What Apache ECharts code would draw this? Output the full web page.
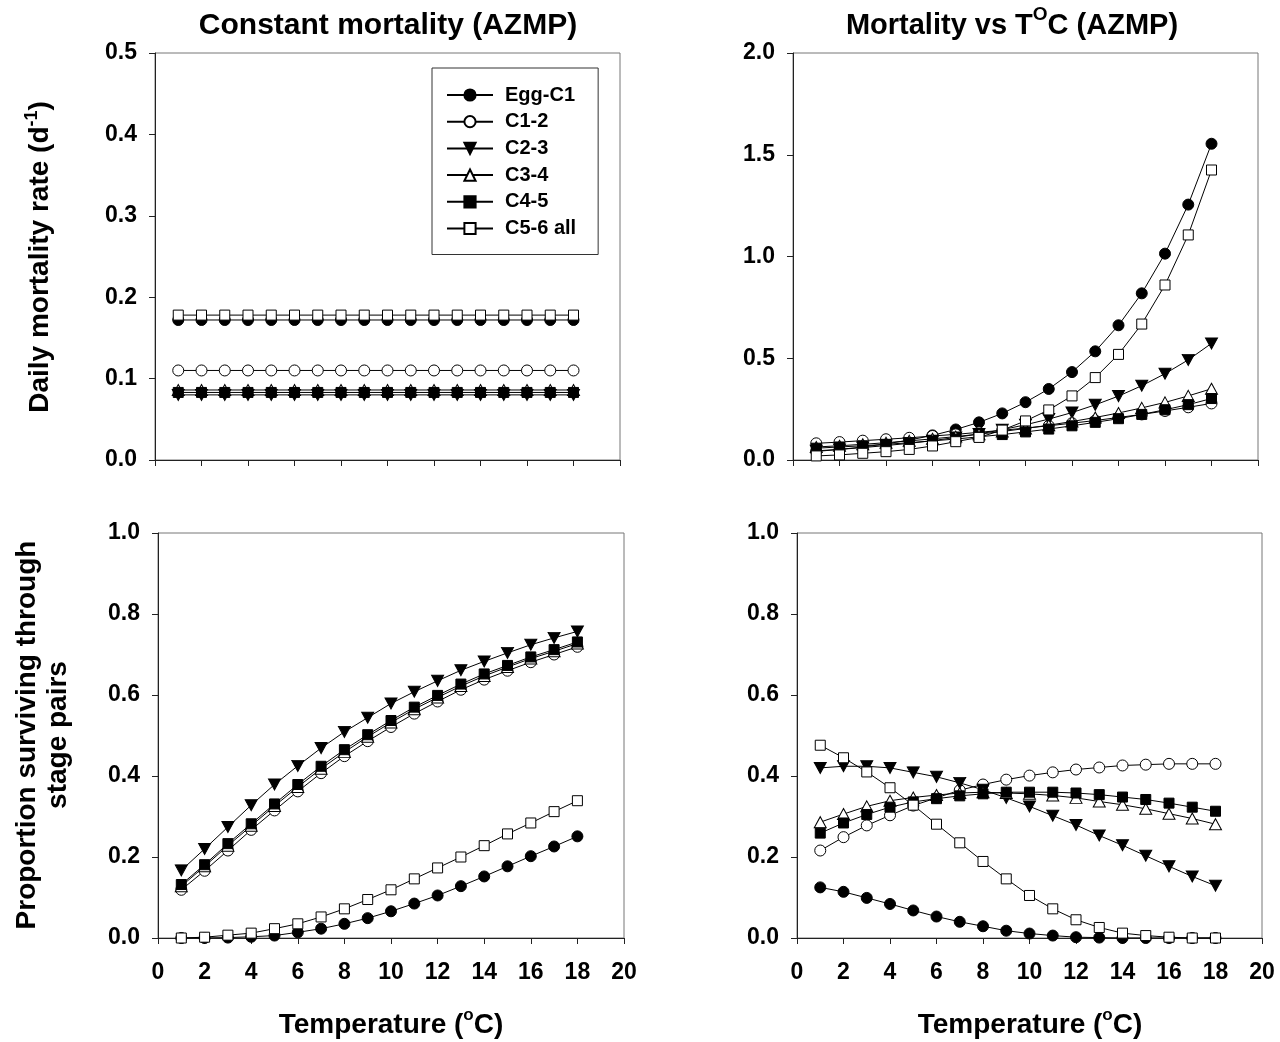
<!DOCTYPE html>
<html>
<head>
<meta charset="utf-8">
<script src="https://cdn.jsdelivr.net/npm/echarts@6/dist/echarts.min.js"></script>
<style>
html,body{margin:0;padding:0;background:#fff;}
#chart{width:1280px;height:1042px;}
</style>
</head>
<body>
<div id="chart"></div>
<script>
// ---------------- DATA ----------------
const temperature = [1,2,3,4,5,6,7,8,9,10,11,12,13,14,15,16,17,18];
const stageNames = ['Egg-C1','C1-2','C2-3','C3-4','C4-5','C5-6 all'];
const xTicks = [0,2,4,6,8,10,12,14,16,18,20];

// Top-left: constant daily mortality rate (d-1)
const constMort_EggC1 = [0.172,0.172,0.172,0.172,0.172,0.172,0.172,0.172,0.172,0.172,0.172,0.172,0.172,0.172,0.172,0.172,0.172,0.172];
const constMort_C12   = [0.110,0.110,0.110,0.110,0.110,0.110,0.110,0.110,0.110,0.110,0.110,0.110,0.110,0.110,0.110,0.110,0.110,0.110];
const constMort_C23   = [0.080,0.080,0.080,0.080,0.080,0.080,0.080,0.080,0.080,0.080,0.080,0.080,0.080,0.080,0.080,0.080,0.080,0.080];
const constMort_C34   = [0.086,0.086,0.086,0.086,0.086,0.086,0.086,0.086,0.086,0.086,0.086,0.086,0.086,0.086,0.086,0.086,0.086,0.086];
const constMort_C45   = [0.083,0.083,0.083,0.083,0.083,0.083,0.083,0.083,0.083,0.083,0.083,0.083,0.083,0.083,0.083,0.083,0.083,0.083];
const constMort_C56   = [0.178,0.178,0.178,0.178,0.178,0.178,0.178,0.178,0.178,0.178,0.178,0.178,0.178,0.178,0.178,0.178,0.178,0.178];

// Top-right: temperature-dependent mortality rate (d-1)
const tempMort_EggC1 = [0.042,0.052,0.064,0.079,0.098,0.121,0.150,0.185,0.229,0.284,0.349,0.432,0.534,0.662,0.819,1.014,1.255,1.554];
const tempMort_C12   = [0.082,0.088,0.095,0.102,0.109,0.118,0.126,0.136,0.146,0.157,0.168,0.181,0.194,0.209,0.224,0.241,0.259,0.278];
const tempMort_C23   = [0.045,0.052,0.061,0.071,0.082,0.095,0.111,0.128,0.149,0.173,0.201,0.233,0.271,0.314,0.365,0.424,0.492,0.573];
const tempMort_C34   = [0.064,0.070,0.077,0.085,0.094,0.104,0.115,0.127,0.140,0.155,0.171,0.189,0.209,0.231,0.256,0.283,0.315,0.350];
const tempMort_C45   = [0.058,0.064,0.070,0.077,0.085,0.094,0.103,0.114,0.125,0.138,0.152,0.168,0.185,0.203,0.224,0.247,0.272,0.302];
const tempMort_C56   = [0.020,0.025,0.033,0.041,0.052,0.069,0.090,0.111,0.147,0.192,0.246,0.315,0.405,0.519,0.668,0.860,1.106,1.425];

// Bottom-left: proportion surviving, constant mortality
const constSurv_EggC1 = [0.000,0.000,0.001,0.003,0.006,0.014,0.023,0.035,0.049,0.066,0.085,0.105,0.128,0.152,0.177,0.202,0.226,0.251];
const constSurv_C12   = [0.119,0.166,0.216,0.267,0.315,0.362,0.407,0.449,0.486,0.521,0.554,0.584,0.613,0.638,0.660,0.681,0.700,0.719];
const constSurv_C23   = [0.167,0.220,0.274,0.328,0.379,0.425,0.469,0.509,0.544,0.579,0.608,0.635,0.661,0.683,0.704,0.724,0.741,0.757];
const constSurv_C34   = [0.128,0.177,0.228,0.277,0.326,0.373,0.418,0.459,0.497,0.532,0.565,0.594,0.622,0.647,0.669,0.690,0.708,0.727];
const constSurv_C45   = [0.132,0.181,0.233,0.282,0.331,0.379,0.424,0.465,0.502,0.537,0.570,0.599,0.627,0.652,0.673,0.694,0.712,0.731];
const constSurv_C56   = [0.000,0.002,0.007,0.012,0.023,0.035,0.052,0.072,0.095,0.119,0.146,0.173,0.200,0.228,0.257,0.284,0.312,0.339];

// Bottom-right: proportion surviving, temperature-dependent mortality
const tempSurv_EggC1 = [0.125,0.114,0.099,0.084,0.068,0.053,0.040,0.029,0.018,0.011,0.006,0.002,0.001,0.000,0.000,0.000,0.000,0.000];
const tempSurv_C12   = [0.216,0.249,0.278,0.303,0.327,0.346,0.365,0.379,0.391,0.401,0.409,0.416,0.421,0.426,0.428,0.430,0.430,0.430];
const tempSurv_C23   = [0.420,0.424,0.424,0.420,0.409,0.398,0.383,0.366,0.346,0.325,0.302,0.279,0.253,0.229,0.203,0.177,0.152,0.129];
const tempSurv_C34   = [0.286,0.306,0.325,0.339,0.347,0.353,0.358,0.360,0.358,0.356,0.352,0.346,0.337,0.329,0.319,0.307,0.295,0.281];
const tempSurv_C45   = [0.259,0.284,0.305,0.323,0.336,0.344,0.351,0.356,0.360,0.360,0.360,0.358,0.354,0.348,0.342,0.333,0.323,0.313];
const tempSurv_C56   = [0.476,0.445,0.410,0.371,0.328,0.281,0.235,0.189,0.146,0.105,0.072,0.045,0.026,0.012,0.006,0.002,0.000,0.000];

// ---------------- STYLE / BUILD ----------------
const FONT = 'Liberation Sans, Arial, Helvetica, sans-serif';
const DOWN_TRI = 'path://M0,0 L10,0 L5,9 Z';
const markerStyles = {
  'Egg-C1':   {symbol:'circle',   size:11, fill:'#000'},
  'C1-2':     {symbol:'circle',   size:11, fill:'#fff'},
  'C2-3':     {symbol:DOWN_TRI,   size:[12,11], fill:'#000'},
  'C3-4':     {symbol:'triangle', size:[12,11], fill:'#fff'},
  'C4-5':     {symbol:'rect',     size:10, fill:'#000'},
  'C5-6 all': {symbol:'rect',     size:10, fill:'#fff'}
};

const panels = [
  {grid:{left:155, top:53, width:465, height:407}, ymax:0.5, yint:0.1, xlabels:false,
   data:[constMort_EggC1,constMort_C12,constMort_C23,constMort_C34,constMort_C45,constMort_C56]},
  {grid:{left:793, top:53, width:465, height:407}, ymax:2.0, yint:0.5, xlabels:false,
   data:[tempMort_EggC1,tempMort_C12,tempMort_C23,tempMort_C34,tempMort_C45,tempMort_C56]},
  {grid:{left:158, top:533, width:466, height:405}, ymax:1.0, yint:0.2, xlabels:true,
   data:[constSurv_EggC1,constSurv_C12,constSurv_C23,constSurv_C34,constSurv_C45,constSurv_C56]},
  {grid:{left:797, top:533, width:465, height:405}, ymax:1.0, yint:0.2, xlabels:true,
   data:[tempSurv_EggC1,tempSurv_C12,tempSurv_C23,tempSurv_C34,tempSurv_C45,tempSurv_C56]}
];

const grids = [], xAxes = [], yAxes = [], series = [];
panels.forEach((p, gi) => {
  grids.push(Object.assign({show:true, borderColor:'#777', borderWidth:1, backgroundColor:'#fff'}, p.grid));
  xAxes.push({
    type:'value', gridIndex:gi, min:xTicks[0], max:xTicks[xTicks.length-1], interval:2,
    axisLine:{show:true, onZero:false, lineStyle:{color:'#222', width:1}},
    axisTick:{show:true, inside:false, length:6, lineStyle:{color:'#222'}},
    axisLabel:{show:p.xlabels, margin:23, color:'#000', fontFamily:FONT, fontWeight:'bold', fontSize:23},
    splitLine:{show:false}
  });
  yAxes.push({
    type:'value', gridIndex:gi, min:0, max:p.ymax, interval:p.yint,
    axisLine:{show:true, onZero:false, lineStyle:{color:'#222', width:1}},
    axisTick:{show:true, inside:false, length:6, lineStyle:{color:'#222'}},
    axisLabel:{margin:18, color:'#000', fontFamily:FONT, fontWeight:'bold', fontSize:23,
               formatter:v => v.toFixed(1)},
    splitLine:{show:false}
  });
  stageNames.forEach((name, si) => {
    const m = markerStyles[name];
    series.push({
      type:'line', name:name, xAxisIndex:gi, yAxisIndex:gi,
      data: temperature.map((t, i) => [t, p.data[si][i]]),
      symbol:m.symbol, symbolSize:m.size, showAllSymbol:true,
      lineStyle:{color:'#000', width:1},
      itemStyle:{color:m.fill, borderColor:'#000', borderWidth:1},
      emphasis:{disabled:true}, animation:false, z: 2 + si
    });
  });
});

const option = {
  backgroundColor:'#fff',
  animation:false,
  grid:grids, xAxis:xAxes, yAxis:yAxes, series:series,
  legend:{
    data:stageNames, orient:'vertical', left:432, top:68,
    padding:[17,22,16,14], itemGap:6.7, itemWidth:46, itemHeight:14,
    borderColor:'#333', borderWidth:1, backgroundColor:'#fff',
    selectedMode:false,
    textStyle:{fontFamily:FONT, fontWeight:'bold', fontSize:20, color:'#000', padding:[0,0,0,7]}
  },
  graphic:[
    {type:'text', x:388, y:26, style:{text:'Constant mortality (AZMP)', font:'bold 30px ' + FONT, fill:'#000', align:'center', verticalAlign:'middle'}},
    {type:'text', x:1012, y:26, style:{
      text:'Mortality vs T{s|O}C (AZMP)', font:'bold 29px ' + FONT, fill:'#000', align:'center', verticalAlign:'middle',
      rich:{s:{fontFamily:FONT, fontWeight:'bold', fontSize:19, fill:'#000', padding:[0,0,22,0]}}}},
    {type:'text', x:40, y:257, rotation:Math.PI/2, style:{
      text:'Daily mortality rate (d{s|-1})', font:'bold 28px ' + FONT, fill:'#000', align:'center', verticalAlign:'middle',
      rich:{s:{fontFamily:FONT, fontWeight:'bold', fontSize:18, fill:'#000', padding:[0,0,16,0]}}}},
    {type:'text', x:43, y:735, rotation:Math.PI/2, style:{
      text:'Proportion surviving through\nstage pairs', font:'bold 28px ' + FONT, fill:'#000', align:'center', verticalAlign:'middle', lineHeight:31}},
    {type:'text', x:391, y:1025, style:{
      text:'Temperature ({s|o}C)', font:'bold 28px ' + FONT, fill:'#000', align:'center', verticalAlign:'middle',
      rich:{s:{fontFamily:FONT, fontWeight:'bold', fontSize:17, fill:'#000', padding:[0,0,20,0]}}}},
    {type:'text', x:1030, y:1025, style:{
      text:'Temperature ({s|o}C)', font:'bold 28px ' + FONT, fill:'#000', align:'center', verticalAlign:'middle',
      rich:{s:{fontFamily:FONT, fontWeight:'bold', fontSize:17, fill:'#000', padding:[0,0,20,0]}}}}
  ]
};

const chart = echarts.init(document.getElementById('chart'), null, {renderer:'canvas'});
chart.setOption(option);
</script>
</body>
</html>
